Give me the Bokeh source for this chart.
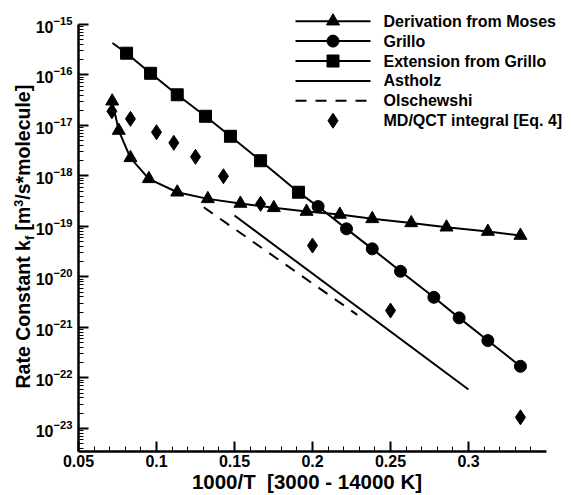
import math
from bokeh.plotting import figure
from bokeh.models import Range1d, SingleIntervalTicker, FixedTicker, CustomJSTickFormatter
from bokeh.core.properties import value
from bokeh.embed import file_html
from bokeh.resources import INLINE

# ---------------- data ----------------
moses_x = [0.0716, 0.0758, 0.0833, 0.0951, 0.1133, 0.1329, 0.1538, 0.1752,
           0.1962, 0.2175, 0.2383, 0.2633, 0.2859, 0.3124, 0.3333]
moses_k = [3.02e-17, 7.93e-18, 2.28e-18, 8.75e-19, 4.75e-19, 3.51e-19, 2.84e-19,
           2.33e-19, 1.97e-19, 1.72e-19, 1.41e-19, 1.17e-19, 9.62e-20, 7.9e-20, 6.58e-20]

grillo_x = [0.2036, 0.2218, 0.2383, 0.2564, 0.2778, 0.2940, 0.3124, 0.3333]
grillo_k = [2.47e-19, 8.94e-20, 3.59e-20, 1.29e-20, 3.94e-21, 1.54e-21, 5.47e-22, 1.69e-22]

ext_x = [0.0808, 0.0962, 0.1133, 0.1314, 0.1474, 0.1667, 0.1910]
ext_k = [2.7e-16, 1.08e-16, 4.05e-17, 1.52e-17, 6.1e-18, 2.0e-18, 4.75e-19]
ext_start_x = [0.0718]
ext_start_k = [4.3e-16]

astholz_x = [0.15, 0.30]
astholz_k = [1.64e-19, 5.85e-23]

olsch_x = [0.1303, 0.2287]
olsch_k = [2.39e-19, 1.77e-21]

md_x = [0.0714, 0.0833, 0.1, 0.1111, 0.125, 0.1429, 0.1667, 0.2, 0.25, 0.3333]
md_k = [1.91e-17, 1.35e-17, 7.34e-18, 4.53e-18, 2.39e-18, 9.86e-19, 2.8e-19,
        4.17e-20, 2.15e-21, 1.65e-23]

x_label = "1000/T\u00a0\u00a0[3000 - 14000 K]"
legend_labels = ["Derivation from Moses", "Grillo", "Extension from Grillo",
                 "Astholz", "Olschewshi", "MD/QCT integral [Eq. 4]"]
y_title_parts = ["Rate Constant k", "f", "\u00a0[m", "3", "/s*molecule]"]

# ---------------- layout constants (pixels) ----------------
FONT = "Liberation Sans"
X0, X1 = 0.05, 0.35
LOG_Y0, LOG_Y1 = -23.46, -15.0
AX_LEFT, AX_RIGHT, AX_TOP, AX_BOTTOM = 78, 546, 24, 451
px_per_x = (AX_RIGHT - AX_LEFT) / (X1 - X0)
px_per_dec = (AX_BOTTOM - AX_TOP) / (LOG_Y1 - LOG_Y0)

def dx(px):
    return X0 + (px - AX_LEFT) / px_per_x

def dy(py):
    return 10 ** (LOG_Y1 - (py - AX_TOP) / px_per_dec)

p = figure(width=573, height=495, y_axis_type="log",
           x_range=Range1d(X0, X1), y_range=Range1d(10 ** LOG_Y0, 10 ** LOG_Y1),
           output_backend="svg", toolbar_location=None,
           min_border_left=AX_LEFT, min_border_right=573 - AX_RIGHT,
           min_border_top=AX_TOP, min_border_bottom=495 - AX_BOTTOM)
p.xgrid.visible = False
p.ygrid.visible = False
p.outline_line_color = None
p.background_fill_color = None

# axes
xa = p.xaxis[0]
ya = p.yaxis[0]
xa.ticker = SingleIntervalTicker(interval=0.05, num_minor_ticks=5)
xa.formatter = CustomJSTickFormatter(code="return Number(tick.toFixed(2)).toString();")
majors = [10.0 ** e for e in range(-23, -14)]
minors = [m * 10.0 ** e for e in range(-24, -15) for m in range(2, 10)]
ya.ticker = FixedTicker(ticks=majors, minor_ticks=minors)
for ax in (xa, ya):
    ax.axis_line_width = 2.5
    ax.axis_line_color = "black"
    ax.major_tick_in = 10
    ax.major_tick_out = 0
    ax.minor_tick_in = 5
    ax.minor_tick_out = 0
    ax.major_tick_line_width = 2
    ax.minor_tick_line_width = 1
    ax.major_tick_line_color = "black"
    ax.minor_tick_line_color = "black"
    ax.major_label_text_font = FONT
    ax.major_label_text_font_style = "bold"
    ax.major_label_text_font_size = "16px"
    ax.major_label_text_color = "black"
xa.major_label_standoff = 3
ya.major_label_standoff = 6

# series
p.line(moses_x, moses_k, line_color="black", line_width=2)
p.scatter(moses_x, moses_k, marker="triangle", size=13, color="black")
p.line(grillo_x, grillo_k, line_color="black", line_width=2)
p.scatter(grillo_x, grillo_k, marker="circle", size=12, color="black")
p.line(ext_start_x + ext_x + grillo_x[:1], ext_start_k + ext_k + grillo_k[:1],
       line_color="black", line_width=2)
p.scatter(ext_x, ext_k, marker="square", size=12, color="black")
p.line(astholz_x, astholz_k, line_color="black", line_width=2)
p.line(olsch_x, olsch_k, line_color="black", line_width=2, line_dash="11 9")
p.scatter(md_x, md_k, marker="diamond", size=15, color="black")

# legend (drawn as unclipped overlay keys, one row per series)
KEY_X0, KEY_X1, LABEL_X = 295, 370, 383
ROW0, PITCH = 20.7, 19.9
key_line = [True, True, True, True, True, False]
key_dash = ["solid", "solid", "solid", "solid", "11 9", "solid"]
key_marker = ["triangle", "circle", "square", None, None, "diamond"]
key_size = [13, 12, 12, 0, 0, 15]
for i, lab in enumerate(legend_labels):
    cy = ROW0 + PITCH * i
    if key_line[i]:
        p.line([dx(KEY_X0), dx(KEY_X1)], [dy(cy), dy(cy)], line_color="black",
               line_width=2, line_dash=key_dash[i], level="overlay")
    if key_marker[i]:
        p.scatter([dx((KEY_X0 + KEY_X1) / 2)], [dy(cy)], marker=key_marker[i],
                  size=key_size[i], color="black", level="overlay")
    p.text(x=[dx(LABEL_X)], y=[dy(cy)], text=[lab], text_align="left",
           text_baseline="middle", text_font=value(FONT), text_font_style="bold",
           text_font_size=value("16px"), text_color="black", level="overlay")

# x-axis title
p.text(x=[dx(306.5)], y=[dy(480.5)], text=[x_label], text_align="center",
       text_baseline="middle", text_font=value(FONT), text_font_style="bold",
       text_font_size=value("20.5px"), text_color="black", level="overlay")

# y-axis title with subscript / superscript: rotated text pieces
adv = {"R": .722, "a": .556, "t": .333, "e": .556, " ": .278, "\u00a0": .278,
       "C": .722, "o": .611, "n": .611, "s": .556, "k": .556, "f": .333, "[": .333,
       "m": .889, "3": .556, "/": .278, "*": .389, "l": .278, "c": .556, "u": .611,
       "]": .333}
BIG, SMALL = 19.5, 12.5
part_style = [(BIG, 22), (SMALL, 29), (BIG, 22), (SMALL, 17.5), (BIG, 22)]
ypos = 388.0
for txt, (fs, cx) in zip(y_title_parts, part_style):
    p.text(x=[dx(cx)], y=[dy(ypos)], text=[txt], angle=math.pi / 2,
           text_align="left", text_baseline="middle",
           text_font=value(FONT), text_font_style="bold",
           text_font_size=value(f"{fs}px"), text_color="black", level="overlay")
    ypos -= sum(adv.get(c, .3) for c in txt) * fs

open("out.html", "w").write(file_html(p, INLINE))
